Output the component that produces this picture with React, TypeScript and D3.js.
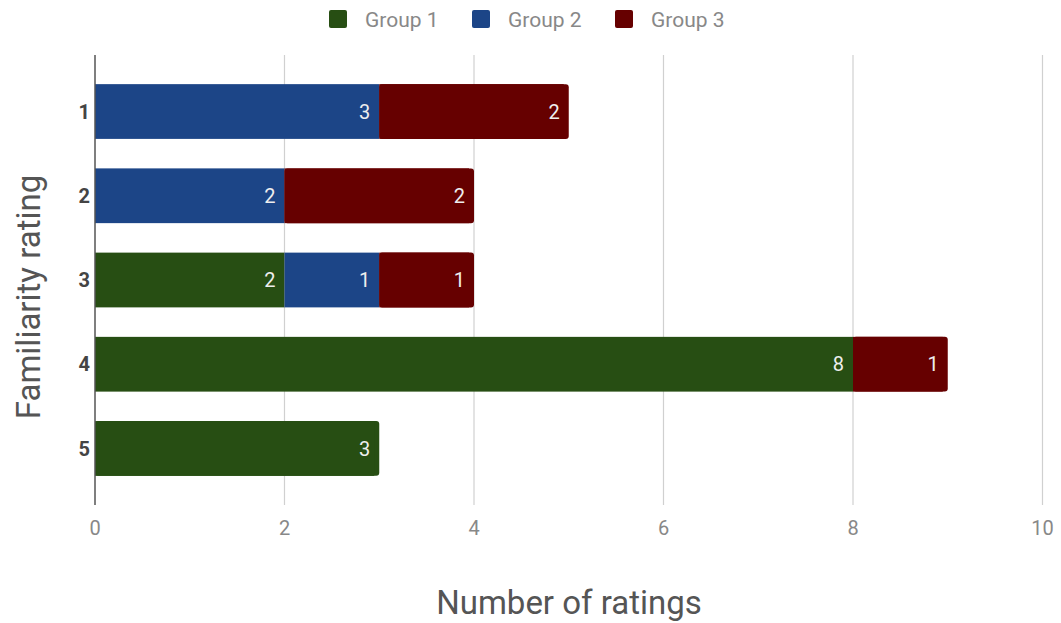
import React from "react";
import * as d3 from "d3";

const categories = ["1", "2", "3", "4", "5"];
const seriesNames = ["Group 1", "Group 2", "Group 3"];
const group1 = [0, 0, 2, 8, 3];
const group2 = [3, 2, 1, 0, 0];
const group3 = [2, 2, 1, 1, 0];
const colors = ["#274e13", "#1c4587", "#660000"];
const xTicks = [0, 2, 4, 6, 8, 10];

export default function App() {
  const W = 1061, H = 623;
  const x = d3.scaleLinear().domain([0, 10]).range([95, 1042.5]);
  const y = d3.scaleBand<string>().domain(categories).range([69.4, 490.6]).paddingInner(0.35).paddingOuter(0.175);
  const series = [group1, group2, group3];
  const font = "Roboto, 'Noto Sans', sans-serif";
  const legendX = [329, 472, 615];

  return (
    <svg width={W} height={H} style={{ position: "absolute", left: 0, top: 0, background: "#fff" }} fontFamily={font}>
      {xTicks.filter(t => t > 0).map(t => (
        <line key={t} x1={x(t)} x2={x(t)} y1={55} y2={505} stroke="#d0d0d0" strokeWidth={1.2} />
      ))}
      {categories.map((c, i) => {
        let acc = 0;
        const segs = series.map((s, k) => {
          const v = s[i];
          const x0 = acc;
          acc += v;
          return { v, x0, x1: acc, k };
        }).filter(s => s.v > 0);
        const yy = y(c)!;
        const bh = y.bandwidth();
        return (
          <g key={c}>
            {segs.map((s, j) => {
              const last = j === segs.length - 1;
              const xa = x(s.x0), xb = x(s.x1);
              return (
                <g key={s.k}>
                  {last ? (
                    <>
                      <rect x={xa} y={yy} width={xb - xa} height={bh} rx={3} fill={colors[s.k]} />
                      <rect x={xa} y={yy} width={Math.max(0, xb - xa - 5)} height={bh} fill={colors[s.k]} />
                    </>
                  ) : (
                    <rect x={xa} y={yy} width={xb - xa} height={bh} fill={colors[s.k]} />
                  )}
                  <text x={xb - 9} y={yy + bh / 2} dy="0.36em" textAnchor="end" fill="#eeeeee" fontSize={20}>{s.v}</text>
                </g>
              );
            })}
            <text x={90} y={yy + bh / 2} dy="0.36em" textAnchor="end" fill="#444" fontSize={20} fontWeight="bold">{c}</text>
          </g>
        );
      })}
      <line x1={95} x2={95} y1={55} y2={505} stroke="#555" strokeWidth={1.5} />
      {xTicks.map(t => (
        <text key={t} x={x(t)} y={528} dy="0.36em" textAnchor="middle" fill="#888" fontSize={20}>{t}</text>
      ))}
      {seriesNames.map((n, k) => (
        <g key={n}>
          <rect x={legendX[k]} y={10} width={18} height={18} rx={2} fill={colors[k]} />
          <text x={legendX[k] + 36} y={19} dy="0.36em" fill="#888" fontSize={21}>{n}</text>
        </g>
      ))}
      <text transform="translate(40,297) rotate(-90)" textAnchor="middle" fill="#555" fontSize={33}>Familiarity rating</text>
      <text x={569} y={614} textAnchor="middle" fill="#555" fontSize={33}>Number of ratings</text>
    </svg>
  );
}
